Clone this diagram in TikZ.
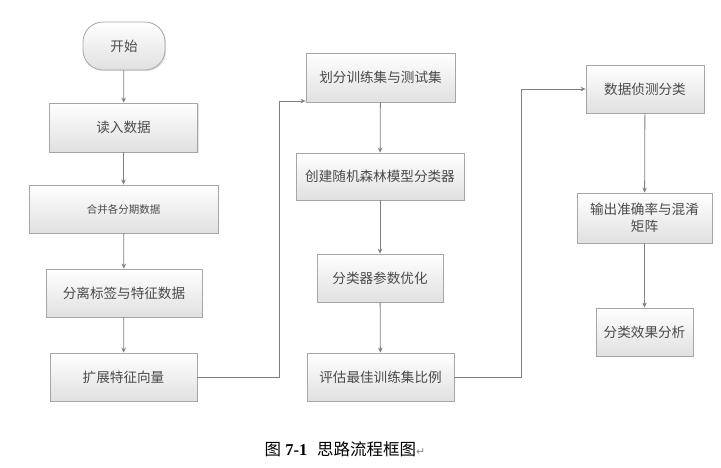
\documentclass[tikz,border=0pt]{standalone}
\usepackage{fontspec}
\setmainfont{Liberation Serif}
\newfontfamily\cjk{Noto Sans CJK SC}
\newfontfamily\symfont{DejaVu Sans}
\usetikzlibrary{arrows.meta,shadows,calc}
\definecolor{linec}{HTML}{7F7F7F}
\definecolor{boxline}{HTML}{A6A6A6}
\definecolor{txt}{HTML}{4A4A4A}
\tikzset{
  flowbox/.style={draw=boxline, line width=0.8pt, top color=white, bottom color=black!12,
    drop shadow={shadow xshift=1.2pt, shadow yshift=-1.2pt, fill=black!18, opacity=0.6},
    text=txt, font=\cjk\fontsize{13.6}{16.5}\selectfont, align=center, inner sep=2pt},
  startbox/.style={flowbox, rounded corners=20pt},
  arr/.style={draw=linec, line width=0.8pt, -{Stealth[length=5pt,width=4.5pt]}}
}
\begin{document}
\begin{tikzpicture}[x=1pt,y=-1pt]
\useasboundingbox (0,0) rectangle (721,467);
% left column
\node[startbox, minimum width=82pt, minimum height=48pt] (s) at (124,46) {开始};
\node[flowbox, minimum width=148pt, minimum height=49pt] (n1) at (123.5,127.5) {读入数据};
\node[flowbox, minimum width=189pt, minimum height=48pt, font=\cjk\fontsize{10.5}{12}\selectfont] (n2) at (123.5,209) {合并各分期数据};
\node[flowbox, minimum width=156pt, minimum height=48pt] (n3) at (124,293) {分离标签与特征数据};
\node[flowbox, minimum width=147pt, minimum height=48pt] (n4) at (123.5,377) {扩展特征向量};
% middle column
\node[flowbox, minimum width=149pt, minimum height=49pt] (m1) at (380.5,77.5) {划分训练集与测试集};
\node[flowbox, minimum width=168pt, minimum height=47pt] (m2) at (380,176.5) {创建随机森林模型分类器};
\node[flowbox, minimum width=126pt, minimum height=48pt] (m3) at (380,278) {分类器参数优化};
\node[flowbox, minimum width=147pt, minimum height=48pt] (m4) at (380.5,377) {评估最佳训练集比例};
% right column
\node[flowbox, minimum width=118pt, minimum height=48pt] (r1) at (645,89) {数据侦测分类};
\node[flowbox, minimum width=135pt, minimum height=50pt] (r2) at (644.5,218) {输出准确率与混淆\\矩阵};
\node[flowbox, minimum width=97pt, minimum height=48pt] (r3) at (644.5,332) {分类效果分析};
% connectors
\draw[arr] (s) -- (n1);
\draw[arr] (n1) -- (n2);
\draw[arr] (n2) -- (n3);
\draw[arr] (n3) -- (n4);
\draw[arr] (m1) -- (m2);
\draw[arr] (m2) -- (m3);
\draw[arr] (m3) -- (m4);
\draw[arr] (r1) -- (r2);
\draw[arr] (r2) -- (r3);
\coordinate (k1) at (279,101);
\draw[arr] (n4.east) -| (k1) -- (k1 -| m1.west);
\coordinate (k2) at (521,89);
\draw[arr] (m4.east) -| (k2) -- (r1.west);
% caption
\node[anchor=base, inner sep=0pt] (cap) at (345,455) {\fontsize{16.5}{19}\selectfont{\cjk 图}\ \textbf{7-1}\hspace{0.6em}{\cjk 思路流程框图}{\symfont\fontsize{11}{12}\selectfont\color{black!45}↵}};
\end{tikzpicture}
\end{document}
